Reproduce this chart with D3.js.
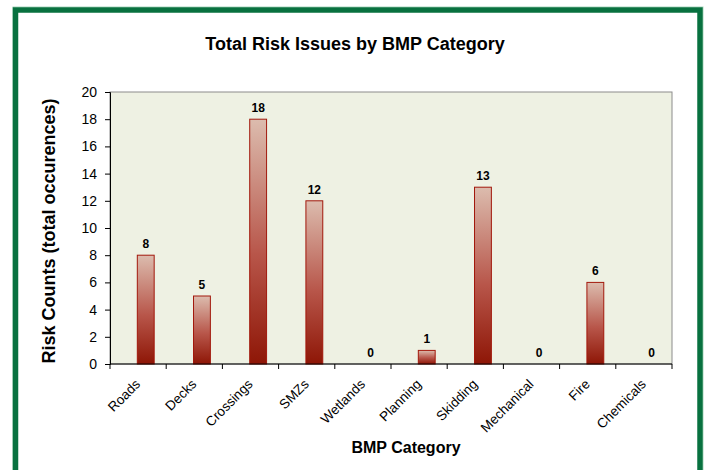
<!DOCTYPE html>
<html>
<head>
<meta charset="utf-8">
<script src="https://cdn.jsdelivr.net/npm/d3@7"></script>
<style>
  html, body { margin: 0; padding: 0; background: #fff; }
  svg { display: block; font-family: Arial, "Liberation Sans", sans-serif; }
</style>
</head>
<body>
<svg id="chart" width="704" height="470"></svg>
<script>
const categories = ["Roads", "Decks", "Crossings", "SMZs", "Wetlands", "Planning", "Skidding", "Mechanical", "Fire", "Chemicals"];
const values = [8, 5, 18, 12, 0, 1, 13, 0, 6, 0];
const yTicks = [0, 2, 4, 6, 8, 10, 12, 14, 16, 18, 20];
const title = "Total Risk Issues by BMP Category";
const xTitle = "BMP Category";
const yTitle = "Risk Counts (total occurences)";

const svg = d3.select("#chart");
const FONT = "Arial, 'Liberation Sans', sans-serif";
const plot = { left: 110, right: 672, top: 92, bottom: 364 };

// frame
svg.append("rect").attr("x", 13).attr("y", 7).attr("width", 690).attr("height", 480)
  .attr("fill", "none").attr("stroke", "#a8d8bd").attr("stroke-width", 1);
svg.append("rect").attr("x", 15.5).attr("y", 10).attr("width", 684.5).attr("height", 480)
  .attr("fill", "none").attr("stroke", "#08713f").attr("stroke-width", 5.5);

const x = d3.scaleBand().domain(categories).range([plot.left, plot.right]).padding(0);
const y = d3.scaleLinear().domain([0, 20]).range([plot.bottom, plot.top]);

const defs = svg.append("defs");
const grad = defs.append("linearGradient").attr("id", "barGrad")
  .attr("x1", 0).attr("y1", 0).attr("x2", 0).attr("y2", 1);
grad.append("stop").attr("offset", "0%").attr("stop-color", "#dcbcae");
grad.append("stop").attr("offset", "55%").attr("stop-color", "#b8564a");
grad.append("stop").attr("offset", "100%").attr("stop-color", "#8e1606");

// plot background
svg.append("rect").attr("x", plot.left).attr("y", plot.top)
  .attr("width", plot.right - plot.left).attr("height", plot.bottom - plot.top)
  .attr("fill", "#eef1e3").attr("stroke", "#8c8c8c").attr("stroke-width", 1);

const bw = x.bandwidth();
const barW = bw * 0.30;
const barOff = bw * 0.486;

svg.append("g").selectAll("rect").data(values).join("rect")
  .attr("x", (d, i) => x(categories[i]) + barOff)
  .attr("y", d => y(d))
  .attr("width", barW)
  .attr("height", d => y(0) - y(d))
  .attr("fill", "url(#barGrad)")
  .attr("stroke", d => d > 0 ? "#a2180c" : "none")
  .attr("stroke-width", 1);

svg.append("g").selectAll("text").data(values).join("text")
  .attr("x", (d, i) => x(categories[i]) + barOff + barW / 2)
  .attr("y", d => y(d) - 7)
  .attr("text-anchor", "middle")
  .attr("font-size", 12).attr("font-weight", "bold").attr("fill", "#000")
  .text(d => d);

// y axis
const yAxis = svg.append("g").attr("transform", `translate(${plot.left},0)`)
  .call(d3.axisLeft(y).tickValues(yTicks).tickSize(5).tickPadding(8));
yAxis.attr("font-family", FONT).attr("font-size", 14);
yAxis.selectAll("text").attr("fill", "#000");
yAxis.selectAll("line,path").attr("stroke", "#000");

// x axis
const xAxis = svg.append("g").attr("transform", `translate(0,${plot.bottom})`);
xAxis.append("line").attr("x1", plot.left).attr("x2", plot.right).attr("y1", 0).attr("y2", 0)
  .attr("stroke", "#000").attr("stroke-width", 1.2);
xAxis.selectAll("line.tick").data(categories.concat(["__end"])).join("line").attr("class", "tick")
  .attr("x1", (d, i) => i < categories.length ? x(d) : plot.right)
  .attr("x2", (d, i) => i < categories.length ? x(d) : plot.right)
  .attr("y1", 0).attr("y2", 5).attr("stroke", "#000");
xAxis.selectAll("text").data(categories).join("text")
  .attr("transform", d => `translate(${x(d) + bw / 2 + 3},${21}) rotate(-45)`)
  .attr("text-anchor", "end")
  .attr("font-size", 13.5).attr("fill", "#000")
  .text(d => d);

// titles
svg.append("text").attr("x", 355).attr("y", 50).attr("text-anchor", "middle")
  .attr("font-size", 18).attr("font-weight", "bold").text(title);
svg.append("text").attr("x", 406).attr("y", 453).attr("text-anchor", "middle")
  .attr("font-size", 16).attr("font-weight", "bold").text(xTitle);
svg.append("text").attr("transform", `translate(55,${(plot.top + plot.bottom) / 2 + 3}) rotate(-90)`)
  .attr("text-anchor", "middle")
  .attr("font-size", 18).attr("font-weight", "bold").text(yTitle);
</script>
</body>
</html>
